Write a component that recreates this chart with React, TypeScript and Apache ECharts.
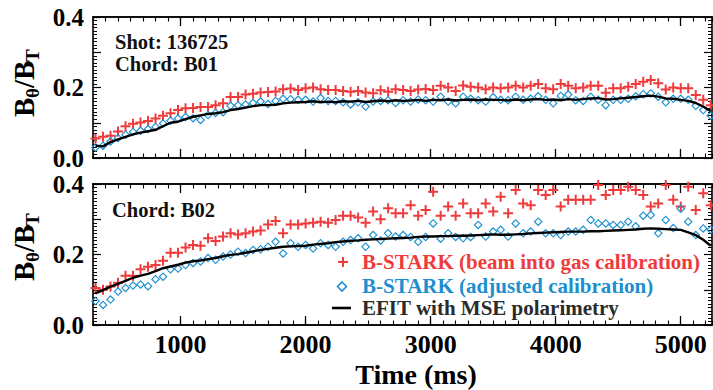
import React, { useEffect, useRef } from "react";
import * as echarts from "echarts";

// Time axis (ms) of the MSE samples
const TIME = [320,380,440,500,560,620,680,740,800,860,920,980,1040,1100,1160,1220,1280,1340,1400,1460,1520,1580,1640,1700,1760,1820,1880,1940,2000,2060,2120,2180,2240,2300,2360,2420,2480,2540,2600,2660,2720,2780,2840,2900,2960,3020,3080,3140,3200,3260,3320,3380,3440,3500,3560,3620,3680,3740,3800,3860,3920,3980,4040,4100,4160,4220,4280,4340,4400,4460,4520,4580,4640,4700,4760,4820,4880,4940,5000,5060,5120,5180,5240];

// Chord B01
const B01_GAS = [0.055,0.06,0.063,0.075,0.09,0.097,0.101,0.105,0.112,0.12,0.127,0.136,0.141,0.142,0.145,0.145,0.15,0.155,0.173,0.173,0.18,0.182,0.186,0.187,0.189,0.195,0.197,0.193,
0.198,0.2,0.195,0.193,0.193,0.19,0.188,0.19,0.186,0.184,0.192,0.188,0.195,0.193,0.19,0.194,0.196,0.193,0.205,0.2,0.19,0.206,0.202,0.2,0.195,0.2,
0.198,0.2,0.205,0.2,0.205,0.21,0.198,0.195,0.21,0.205,0.198,0.2,0.205,0.205,0.185,0.198,0.198,0.202,0.21,0.216,0.221,0.212,0.194,0.2,0.198,0.198,0.179,0.165,0.15];
const B01_ADJ = [0.03,0.035,0.047,0.057,0.066,0.074,0.077,0.082,0.088,0.098,0.106,0.112,0.116,0.113,0.108,0.122,0.128,0.13,0.148,0.15,0.152,0.156,0.16,0.153,0.162,0.168,0.167,0.165,
0.165,0.16,0.17,0.162,0.162,0.158,0.152,0.158,0.146,0.16,0.162,0.164,0.156,0.164,0.16,0.166,0.164,0.16,0.174,0.16,0.155,0.174,0.168,0.164,0.16,0.172,
0.165,0.164,0.174,0.165,0.168,0.175,0.165,0.155,0.176,0.18,0.164,0.162,0.174,0.165,0.15,0.165,0.165,0.168,0.175,0.181,0.183,0.174,0.158,0.168,0.168,0.165,0.148,0.136,0.12];
const B01_EFIT = [0.035,0.033,0.045,0.053,0.06,0.067,0.072,0.076,0.08,0.09,0.1,0.103,0.11,0.117,0.121,0.125,0.127,0.13,0.136,0.139,0.143,0.147,0.15,0.15,0.151,0.155,0.157,0.158,
0.159,0.161,0.158,0.16,0.158,0.161,0.16,0.162,0.159,0.161,0.163,0.161,0.164,0.162,0.163,0.165,0.162,0.165,0.164,0.166,0.163,0.165,0.166,0.164,0.166,0.165,
0.165,0.163,0.166,0.164,0.166,0.167,0.165,0.166,0.164,0.167,0.165,0.167,0.169,0.17,0.166,0.167,0.169,0.171,0.173,0.175,0.177,0.174,0.169,0.168,0.165,0.162,0.156,0.146,0.133];

// Chord B02
const B02_GAS = [0.105,0.1,0.109,0.12,0.14,0.14,0.158,0.165,0.17,0.182,0.205,0.205,0.22,0.227,0.225,0.246,0.238,0.251,0.26,0.257,0.26,0.265,0.268,0.285,0.295,0.26,0.285,0.285,
0.288,0.29,0.293,0.29,0.298,0.31,0.31,0.305,0.29,0.322,0.3,0.331,0.317,0.317,0.34,0.31,0.326,0.378,0.31,0.336,0.31,0.345,0.317,0.317,0.345,0.322,
0.364,0.317,0.383,0.345,0.34,0.383,0.369,0.383,0.336,0.355,0.355,0.355,0.355,0.397,0.369,0.383,0.383,0.392,0.383,0.369,0.336,0.345,0.397,0.355,0.336,0.392,0.326,0.374,0.34];
const B02_ADJ = [0.068,0.057,0.072,0.095,0.105,0.112,0.115,0.11,0.13,0.137,0.158,0.16,0.17,0.176,0.18,0.19,0.185,0.194,0.2,0.208,0.204,0.213,0.215,0.222,0.236,0.203,0.232,0.222,
0.227,0.217,0.232,0.227,0.222,0.236,0.241,0.246,0.222,0.255,0.24,0.26,0.251,0.255,0.25,0.236,0.25,0.288,0.245,0.26,0.25,0.246,0.25,0.284,0.251,0.265,
0.27,0.251,0.288,0.26,0.265,0.293,0.26,0.26,0.255,0.265,0.265,0.27,0.298,0.288,0.288,0.284,0.284,0.293,0.28,0.31,0.312,0.26,0.298,0.275,0.33,0.293,0.255,0.274,0.27];
const B02_EFIT = [0.09,0.099,0.109,0.117,0.125,0.134,0.14,0.145,0.153,0.161,0.166,0.171,0.177,0.181,0.183,0.187,0.19,0.195,0.199,0.201,0.205,0.209,0.213,0.216,0.219,0.222,0.223,0.224,
0.225,0.228,0.23,0.232,0.235,0.237,0.239,0.24,0.242,0.243,0.244,0.245,0.246,0.247,0.248,0.25,0.251,0.251,0.252,0.252,0.253,0.253,0.254,0.255,0.256,0.257,
0.256,0.256,0.257,0.258,0.26,0.261,0.262,0.263,0.264,0.265,0.265,0.265,0.266,0.266,0.267,0.268,0.269,0.27,0.271,0.273,0.274,0.273,0.272,0.271,0.27,0.263,0.255,0.242,0.225];

const X_LABELS = [1000, 2000, 3000, 4000, 5000];
const Y_LABELS = [0, 0.2, 0.4];
const SERIES_NAMES = [
  "B-STARK (beam into gas calibration)",
  "B-STARK (adjusted calibration)",
  "EFIT with MSE polarimetry",
];
const NOTES_TOP = ["Shot: 136725", "Chord: B01"];
const NOTE_BOTTOM = "Chord: B02";
const X_TITLE = "Time (ms)";

const RED = "#ef3b3b";
const BLUE = "#1c8fd0";
const FONT = "Liberation Serif";
const PLUS = "path://M4,0H6V4H10V6H6V10H4V6H0V4H4Z";
const DIAMOND = "path://M5,0L10,5L5,10L0,5ZM5,1.8L1.8,5L5,8.2L8.2,5Z";

const zip = (ys: number[]) => TIME.map((t, i) => [t, ys[i]]);

function txt(size: number) {
  return { fontFamily: FONT, fontWeight: "bold", fontSize: size };
}

function xAxes(grid: number, labels: boolean) {
  const base = {
    type: "value",
    gridIndex: grid,
    min: 300,
    max: 5250,
    splitLine: { show: false },
    axisLine: { show: true, onZero: false, lineStyle: { color: "#000", width: 1.6 } },
  };
  return [
    {
      ...base,
      position: "bottom",
      axisTick: { show: true, inside: true, length: 9, customValues: X_LABELS, lineStyle: { color: "#000", width: 1.3 } },
      axisLabel: labels
        ? { show: true, customValues: X_LABELS, formatter: (v: number) => String(v), margin: 6, color: "#000", ...txt(26) }
        : { show: false },
    },
    {
      ...base,
      position: "bottom",
      interval: 100,
      axisTick: { show: true, inside: true, length: 4.5, lineStyle: { color: "#000", width: 1.1 } },
      axisLabel: { show: false },
    },
    {
      ...base,
      position: "top",
      axisTick: { show: true, inside: true, length: 9, customValues: X_LABELS, lineStyle: { color: "#000", width: 1.3 } },
      axisLabel: { show: false },
    },
    {
      ...base,
      position: "top",
      interval: 100,
      axisTick: { show: true, inside: true, length: 4.5, lineStyle: { color: "#000", width: 1.1 } },
      axisLabel: { show: false },
    },
  ];
}

function yAxes(grid: number) {
  const base = {
    type: "value",
    gridIndex: grid,
    min: 0,
    max: 0.4,
    interval: 0.1,
    splitLine: { show: false },
    axisLine: { show: true, onZero: false, lineStyle: { color: "#000", width: 1.6 } },
    axisTick: { show: true, inside: true, length: 8, lineStyle: { color: "#000", width: 1.2 } },
    minorTick: { show: true, splitNumber: 10, length: 4, lineStyle: { color: "#000", width: 1 } },
  };
  return [
    {
      ...base,
      position: "left",
      axisLabel: {
        show: true,
        customValues: Y_LABELS,
        formatter: (v: number) => v.toFixed(1),
        margin: 9,
        color: "#000",
        ...txt(25),
      },
    },
    { ...base, position: "right", axisLabel: { show: false } },
  ];
}

function tstyle(text: string, size: number, fill: string, align = "left") {
  return { text, fill, align, verticalAlign: "middle", ...txt(size) };
}

function yTitle(cx: number, cy: number) {
  return {
    type: "group",
    x: cx,
    y: cy,
    rotation: Math.PI / 2,
    children: [
      { type: "text", x: -34, y: 0, style: tstyle("B", 29, "#000") },
      { type: "text", x: -15, y: 8, style: tstyle("θ", 19, "#000") },
      { type: "text", x: -5, y: 0, style: tstyle("/B", 29, "#000") },
      { type: "text", x: 21, y: 8, style: tstyle("T", 19, "#000") },
    ],
  };
}

function note(text: string, x: number, y: number) {
  return { type: "text", x, y, style: tstyle(text, 20.5, "#111") };
}

export default function App() {
  const ref = useRef<HTMLDivElement>(null);
  useEffect(() => {
    if (!ref.current) return;
    const chart = echarts.init(ref.current, null, { renderer: "svg" });
    const option = {
      animation: false,
      backgroundColor: "#fff",
      textStyle: { fontFamily: FONT },
      grid: [
        { left: 93, top: 17, width: 619, height: 141 },
        { left: 93, top: 184, width: 619, height: 141 },
      ],
      xAxis: [...xAxes(0, false), ...xAxes(1, true)],
      yAxis: [...yAxes(0), ...yAxes(1)],
      series: [
        { name: SERIES_NAMES[0], type: "scatter", xAxisIndex: 0, yAxisIndex: 0, data: zip(B01_GAS), symbol: PLUS, symbolSize: 10, itemStyle: { color: RED, opacity: 1 } },
        { name: SERIES_NAMES[1], type: "scatter", xAxisIndex: 0, yAxisIndex: 0, data: zip(B01_ADJ), symbol: DIAMOND, symbolSize: 9, itemStyle: { color: BLUE, opacity: 1 } },
        { name: SERIES_NAMES[2], type: "line", xAxisIndex: 0, yAxisIndex: 0, data: zip(B01_EFIT), showSymbol: false, lineStyle: { color: "#000", width: 2.4 }, z: 5 },
        { name: SERIES_NAMES[0], type: "scatter", xAxisIndex: 4, yAxisIndex: 2, data: zip(B02_GAS), symbol: PLUS, symbolSize: 10, itemStyle: { color: RED, opacity: 1 } },
        { name: SERIES_NAMES[1], type: "scatter", xAxisIndex: 4, yAxisIndex: 2, data: zip(B02_ADJ), symbol: DIAMOND, symbolSize: 9, itemStyle: { color: BLUE, opacity: 1 } },
        { name: SERIES_NAMES[2], type: "line", xAxisIndex: 4, yAxisIndex: 2, data: zip(B02_EFIT), showSymbol: false, lineStyle: { color: "#000", width: 2.4 }, z: 5 },
      ],
      graphic: [
        yTitle(24, 83),
        yTitle(24, 247),
        note(NOTES_TOP[0], 115, 42),
        note(NOTES_TOP[1], 115, 64),
        note(NOTE_BOTTOM, 112, 210),
        { type: "text", x: 416, y: 374, style: tstyle(X_TITLE, 28, "#000", "center") },
        // legend
        {
          type: "polygon",
          shape: { points: [[342, 257], [344, 257], [344, 261], [348, 261], [348, 263], [344, 263], [344, 267], [342, 267], [342, 263], [338, 263], [338, 261], [342, 261]] },
          style: { fill: RED },
        },
        {
          type: "polygon",
          shape: { points: [[342, 282], [346.5, 286.5], [342, 291], [337.5, 286.5]] },
          style: { fill: "none", stroke: BLUE, lineWidth: 1.6 },
        },
        { type: "line", shape: { x1: 332, y1: 308, x2: 351, y2: 308 }, style: { stroke: "#000", lineWidth: 2.6 } },
        { type: "text", x: 362, y: 262, style: tstyle(SERIES_NAMES[0], 21, RED) },
        { type: "text", x: 362, y: 286, style: tstyle(SERIES_NAMES[1], 21, BLUE) },
        { type: "text", x: 362, y: 308, style: tstyle(SERIES_NAMES[2], 21, "#2b2b2b") },
      ],
    };
    chart.setOption(option as any);
    return () => chart.dispose();
  }, []);
  return <div ref={ref} style={{ position: "absolute", left: 0, top: 0, width: 713, height: 390 }} />;
}
